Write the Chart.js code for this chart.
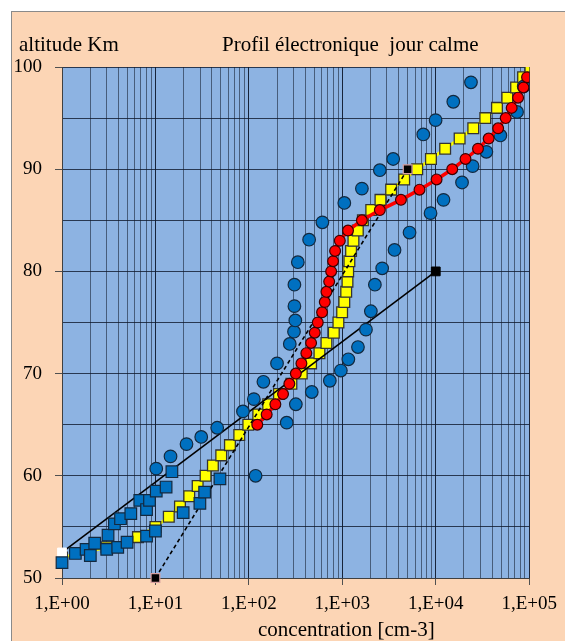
<!DOCTYPE html>
<html>
<head>
<meta charset="utf-8">
<script src="https://cdn.jsdelivr.net/npm/chart.js@4.4.1/dist/chart.umd.min.js"></script>
<style>
  body { margin: 0; width: 565px; height: 641px; background: #ffffff; position: relative; overflow: hidden; font-family: 'Liberation Serif', serif; }
  #frame { position: absolute; left: 11px; top: 11px; width: 560px; height: 640px; background: #fcd5b5; border-left: 1px solid #8a8a8a; border-top: 1px solid #8a8a8a; }
  #c { position: absolute; left: 0; top: 0; }
  .txt { position: absolute; font-size: 21px; color: #000; white-space: pre; }
</style>
</head>
<body>
<div id="frame"></div>
<canvas id="c" width="565" height="641"></canvas>
<div class="txt" style="left:19px; top:32px;">altitude Km</div>
<div class="txt" style="left:222px; top:32px;">Profil électronique  jour calme</div>
<div class="txt" style="left:258px; top:617px;">concentration [cm-3]</div>
<script>
// profils rouge (cercles) et jaune (carrés), altitude en km, concentration en cm-3
const redAlt = [65, 66, 67, 68, 69, 70, 71, 72, 73, 74, 75, 76, 77, 78, 79, 80, 81, 82, 83, 84,
  85, 86, 87, 88, 89, 90, 91, 92, 93, 94, 95, 96, 97, 98, 99];
const redConc = [123, 155, 192, 232, 271, 318, 365, 412, 463, 507, 546, 607, 649, 676, 723, 759, 796, 837, 940, 1150,
  1620, 2520, 4240, 6700, 10200, 15000, 20800, 28300, 36800, 46500, 56000, 64900, 76000, 86700, 94800];

const yellowAlt = [52, 53, 54, 55, 56, 57, 58, 59, 60, 61, 62, 63, 64, 65, 66, 67, 68, 69, 70, 71,
  72, 73, 74, 75, 76, 77, 78, 79, 80, 81, 82, 83, 84, 85, 86, 87, 88, 89, 90, 91,
  92, 93, 94, 95, 96, 97, 98, 99, 100];
const yellowConc = [1.0, 3.0, 6.5, 10.0, 13.9, 18.3, 23.0, 28.3, 34.4, 41.2, 50.6, 62.7, 78.9, 98.6, 126, 161, 210, 285, 368, 463,
  569, 676, 811, 908, 995, 1050, 1100, 1135, 1155, 1190, 1240, 1315, 1465, 1660, 2040, 2560, 3330, 4590, 6330, 8880,
  12600, 18000, 25200, 33900, 45200, 58300, 72400, 86000, 103000];

// mesures (carrés bleus, basse altitude)
const blueSqConc = [1.0, 1.39, 1.81, 2.01, 2.24, 3.01, 3.11, 3.95, 3.64, 4.23, 4.97, 5.45, 6.80, 8.03, 8.64, 8.03,
  10.0, 10.2, 13.0, 15.0, 19.8, 29.9, 33.6, 49.0];
const blueSqAlt = [51.5, 52.4, 52.8, 52.2, 53.4, 52.8, 54.2, 53.0, 55.3, 55.8, 53.5, 56.3, 57.6, 56.7, 57.6, 54.1,
  54.6, 58.5, 58.9, 60.4, 56.4, 57.3, 58.4, 59.7];

// mesures (cercles bleus)
const blueCircConc = [10.2, 14.5, 21.5, 30.9, 45.8, 86.4, 113, 118, 143, 200, 274, 304, 314, 307, 307, 334, 441, 612,
  1050, 1620, 2520, 3500, 7350, 9960, 15400, 23800,
  254, 318, 471, 735, 964, 1160, 1470, 1790, 2020, 2230, 2670, 3620, 5240, 8790, 12100, 19100, 24800, 34800, 49100, 74100, 87300];
const blueCircAlt = [60.7, 61.9, 63.1, 63.8, 64.7, 66.3, 67.5, 60.0, 69.2, 71.0, 72.9, 74.1, 75.2, 76.6, 78.7, 80.9, 83.1, 84.8,
  86.7, 88.1, 89.9, 91.0, 93.4, 94.8, 96.6, 98.5,
  65.2, 67.0, 68.2, 69.3, 70.3, 71.4, 72.6, 74.3, 76.1, 78.7, 80.3, 82.1, 83.8, 85.7, 87.0, 88.7, 90.3, 91.7, 93.3, 95.6, 98.1];

// droites noires
const solidConc = [1, 10000];
const solidAlt = [52.5, 80];
const dashedConc = [10, 5000];
const dashedAlt = [50, 90];

const decades = [0, 1, 2, 3, 4, 5];
const yTicks = [50, 60, 70, 80, 90, 100];

function pts(xs, ys) {
  return xs.map((x, i) => ({ x: x, y: ys[i] }));
}

function isDecade(v) {
  const e = Math.log10(v);
  return Math.abs(e - Math.round(e)) < 1e-9;
}

const plotBg = {
  id: 'plotBg',
  beforeDraw(chart) {
    const a = chart.chartArea;
    const ctx = chart.ctx;
    ctx.save();
    ctx.fillStyle = '#8db3e2';
    ctx.fillRect(a.left, a.top, a.right - a.left, a.bottom - a.top);
    ctx.restore();
  }
};

const ctx = document.getElementById('c').getContext('2d');
new Chart(ctx, {
  type: 'scatter',
  data: {
    datasets: [
      {
        label: 'rouge',
        data: pts(redConc, redAlt),
        showLine: true,
        borderColor: '#ff0000',
        borderWidth: 3.5,
        pointStyle: 'circle',
        pointRadius: 5.4,
        pointBackgroundColor: '#ff0000',
        pointBorderColor: '#3a0000',
        pointBorderWidth: 1.2,
        order: 0
      },
      {
        label: 'cercles',
        data: pts(blueCircConc, blueCircAlt),
        showLine: false,
        pointStyle: 'circle',
        pointRadius: 6.3,
        pointBackgroundColor: '#0070c0',
        pointBorderColor: '#13293f',
        pointBorderWidth: 1.2,
        order: 1
      },
      {
        label: 'carres',
        data: pts(blueSqConc, blueSqAlt),
        showLine: false,
        clip: false,
        pointStyle: 'rect',
        pointRadius: 8.2,
        pointBackgroundColor: '#0070c0',
        pointBorderColor: '#13293f',
        pointBorderWidth: 1.2,
        order: 2
      },
      {
        label: 'pente',
        data: pts(solidConc, solidAlt),
        showLine: true,
        clip: false,
        borderColor: '#000000',
        borderWidth: 1.6,
        pointStyle: 'rect',
        pointRadius: 6.2,
        pointBackgroundColor: ['#ffffff', '#000000'],
        pointBorderColor: ['#ffffff', '#000000'],
        pointBorderWidth: 1,
        order: 3
      },
      {
        label: 'tirets',
        data: pts(dashedConc, dashedAlt),
        showLine: true,
        clip: false,
        borderColor: '#000000',
        borderWidth: 1.6,
        borderDash: [4, 3],
        pointStyle: 'rect',
        pointRadius: 6.2,
        pointBackgroundColor: '#000000',
        pointBorderColor: '#d8a0a0',
        pointBorderWidth: 1.2,
        order: 3
      },
      {
        label: 'jaune',
        data: pts(yellowConc, yellowAlt),
        showLine: true,
        borderColor: '#ffff00',
        borderWidth: 3,
        pointStyle: 'rect',
        pointRadius: 7.6,
        pointBackgroundColor: '#ffff00',
        pointBorderColor: '#333333',
        pointBorderWidth: 1.3,
        order: 4
      }
    ]
  },
  options: {
    responsive: false,
    animation: false,
    devicePixelRatio: 1,
    layout: { padding: { left: 0, top: 67, right: 35, bottom: 0 } },
    plugins: {
      legend: { display: false },
      tooltip: { enabled: false }
    },
    scales: {
      x: {
        type: 'logarithmic',
        min: 1,
        max: 100000,
        afterBuildTicks(scale) {
          const t = [];
          decades.forEach(e => {
            if (e === 5) { t.push({ value: 1e5 }); return; }
            for (let m = 1; m <= 9; m++) t.push({ value: m * Math.pow(10, e) });
          });
          scale.ticks = t;
        },
        afterFit(scale) { scale.height = 63; },
        border: { color: '#404040', width: 1 },
        grid: {
          color: c => isDecade(c.tick.value) ? 'rgba(10,20,40,0.9)' : 'rgba(25,35,55,0.6)',
          lineWidth: 1,
          tickLength: 7,
          tickColor: c => isDecade(c.tick.value) ? '#505050' : 'rgba(0,0,0,0)'
        },
        ticks: {
          autoSkip: false,
          maxRotation: 0,
          padding: 8,
          color: '#000',
          font: { family: 'Liberation Serif', size: 19 },
          callback: v => isDecade(v) ? '1,E+0' + Math.round(Math.log10(v)) : ''
        }
      },
      y: {
        type: 'linear',
        min: 50,
        max: 100,
        afterFit(scale) { scale.width = 62; },
        border: { color: '#404040', width: 1 },
        grid: {
          color: 'rgba(15,25,45,0.8)',
          lineWidth: 1,
          tickLength: 7,
          tickColor: c => yTicks.includes(c.tick.value) ? '#505050' : 'rgba(0,0,0,0)'
        },
        ticks: {
          stepSize: 5,
          padding: 13,
          color: '#000',
          font: { family: 'Liberation Serif', size: 19 },
          callback: v => yTicks.includes(v) ? String(v) : ''
        }
      }
    }
  },
  plugins: [plotBg]
});
</script>
</body>
</html>
